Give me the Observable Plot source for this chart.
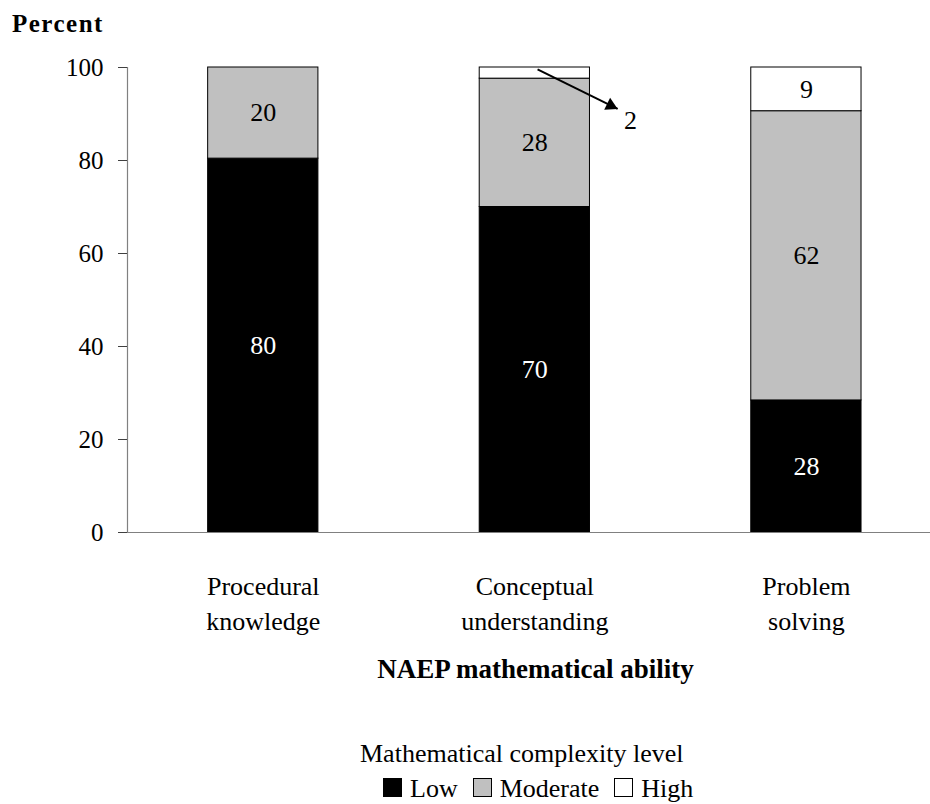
<!DOCTYPE html>
<html>
<head>
<meta charset="utf-8">
<script src="https://cdn.jsdelivr.net/npm/d3@7"></script>
<script src="https://cdn.jsdelivr.net/npm/@observablehq/plot@0.6"></script>
<style>
  body { margin: 0; background: #fff; }
  #wrap { position: relative; width: 930px; height: 804px; font-family: 'Liberation Serif', 'Times New Roman', serif; color: #000; overflow: hidden; }
  #chart { position: absolute; left: 0; top: 0; }
  #ylab { position: absolute; left: 12px; top: 11px; font-size: 25px; font-weight: bold; line-height: 1; letter-spacing: 1.5px; white-space: nowrap; }
  #legtitle { position: absolute; left: 360px; top: 741px; font-size: 26px; line-height: 1; white-space: nowrap; }
  #legrow { position: absolute; left: 383px; top: 776px; font-size: 26px; line-height: 1; white-space: nowrap; }
  .sw { display: inline-block; width: 19px; height: 19px; border: 1px solid #000; box-sizing: border-box; margin-right: 8px; }
  .item { margin-right: 15px; }
</style>
</head>
<body>
<div id="wrap">
  <div id="chart"></div>
  <div id="ylab"></div>
  <div id="legtitle"></div>
  <div id="legrow"></div>
</div>
<script>
// ---- data ----
const categories = ["Procedural\nknowledge", "Conceptual\nunderstanding", "Problem\nsolving"];
const levels = ["Low", "Moderate", "High"];
const low = [80.4, 70.0, 28.4];
const moderate = [19.6, 27.6, 62.2];
const high = [0, 2.4, 9.4];
const yTicks = [0, 20, 40, 60, 80, 100];
const yLabel = "Percent";
const xLabel = "NAEP mathematical ability";
const legendTitle = "Mathematical complexity level";
// small "High" value of Conceptual understanding is labelled outside with an arrow
const noteText = "2";
const noteFrom = [1.01, 99.6];
const noteTo = [1.305, 91.1];
const noteAt = [1.352, 88.5];

// ---- styles ----
const fills = {Low: "#000000", Moderate: "#c0c0c0", High: "#ffffff"};
const labelFills = {Low: "#ffffff", Moderate: "#000000", High: "#000000"};
const barHalf = 0.203;

const series = {Low: low, Moderate: moderate, High: high};
const segments = [];
categories.forEach((c, i) => {
  let base = 0;
  levels.forEach(l => {
    const v = series[l][i];
    if (v > 0) segments.push({i, level: l, value: v, y1: base, y2: base + v, mid: base + v / 2});
    base += v;
  });
});
const labelled = segments.filter(d => d.value >= 5);

const chart = Plot.plot({
  width: 930,
  height: 700,
  marginTop: 67,
  marginBottom: 168,
  marginLeft: 127,
  marginRight: 0,
  style: {fontFamily: "'Liberation Serif', 'Times New Roman', serif", fontSize: "26px", background: "white", color: "#000"},
  x: {type: "linear", domain: [-0.5, 2.457]},
  y: {domain: [0, 100]},
  color: {type: "identity"},
  marks: [
    Plot.rect(segments, {
      x1: d => d.i - barHalf, x2: d => d.i + barHalf, y1: "y1", y2: "y2",
      fill: d => fills[d.level], stroke: "#000", strokeWidth: 1
    }),
    Plot.ruleY([0], {stroke: "#808080", strokeWidth: 1.2}),
    Plot.ruleX([-0.5], {y1: 0, y2: 100, stroke: "#808080", strokeWidth: 1.2}),
    Plot.axisY({ticks: yTicks, tickSize: 9, tickPadding: 15, fontSize: 25, label: null, stroke: "#404040"}),
    Plot.axisX({ticks: [0, 1, 2], tickFormat: i => categories[i], tickSize: 0, tickPadding: 37.5, fontSize: 26, lineHeight: 1.35, label: null}),
    Plot.text(labelled, {x: "i", y: "mid", text: d => String(Math.round(d.value)), fill: d => labelFills[d.level], fontSize: 26}),
    Plot.link([0], {x1: () => noteFrom[0], y1: () => noteFrom[1], x2: () => noteTo[0], y2: () => noteTo[1], stroke: "#000", strokeWidth: 2}),
    Plot.dot([0], {x: () => noteTo[0], y: () => noteTo[1], symbol: "triangle", r: 5, fill: "#000", stroke: "none", rotate: 116, dx: -7, dy: -3.4}),
    Plot.text([noteText], {x: () => noteAt[0], y: () => noteAt[1], text: d => d, fontSize: 26}),
    Plot.text([xLabel], {frameAnchor: "bottom", text: d => d, dx: 6.5, dy: 126.8, lineAnchor: "top", fontWeight: "bold", fontSize: 27})
  ]
});
document.getElementById("chart").appendChild(chart);
document.getElementById("ylab").textContent = yLabel;
document.getElementById("legtitle").textContent = legendTitle;
const row = document.getElementById("legrow");
levels.forEach(l => {
  const sw = document.createElement("span");
  sw.className = "sw";
  sw.style.background = fills[l];
  const t = document.createElement("span");
  t.className = "item";
  t.textContent = l;
  row.appendChild(sw);
  row.appendChild(t);
});
</script>
</body>
</html>
